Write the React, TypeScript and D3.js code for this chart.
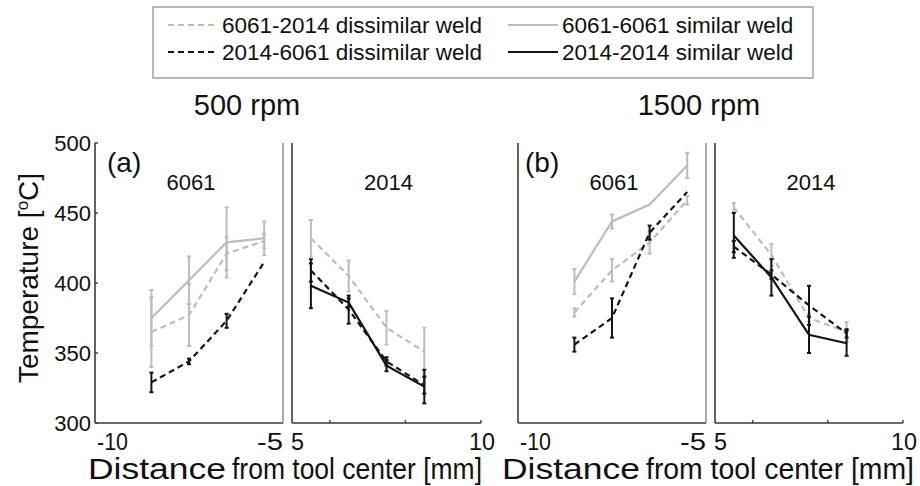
import React from "react";
import * as d3 from "d3";

// ---------- data ----------
const xLeft = [-8.5, -7.5, -6.5, -5.5];
const xRight = [5.5, 6.5, 7.5, 8.5];

const seriesNames = [
  "6061-2014 dissimilar weld",
  "2014-6061 dissimilar weld",
  "6061-6061 similar weld",
  "2014-2014 similar weld",
];

// 500 rpm, 6061 side
const a6061_similar = [375, 402, 429, 432];
const a6061_similarErr = [20, 17, 25, 12];
const a6061_d60612014 = [365, 377, 421, 430];
const a6061_d60612014Err = [25, 22, 12, 5];
const a6061_d20146061 = [329, 344, 373, 415];
const a6061_d20146061Err = [7, 2, 5, 0];
// 500 rpm, 2014 side
const a2014_d60612014 = [432, 405, 368, 351];
const a2014_d60612014Err = [13, 11, 12, 17];
const a2014_similar = [398, 386, 341, 326];
const a2014_similarErr = [16, 3, 4, 12];
const a2014_d20146061 = [409, 381, 344, 327];
const a2014_d20146061Err = [8, 10, 3, 6];
// 1500 rpm, 6061 side
const b6061_similar = [401, 444, 456, 484];
const b6061_similarErr = [9, 5, 0, 9];
const b6061_d60612014 = [379, 409, 429, 459];
const b6061_d60612014Err = [3, 8, 8, 3];
const b6061_d20146061 = [356, 375, 436, 465];
const b6061_d20146061Err = [5, 14, 5, 0];
// 1500 rpm, 2014 side
const b2014_d60612014 = [454, 420, 375, 365];
const b2014_d60612014Err = [3, 8, 3, 7];
const b2014_similar = [434, 404, 363, 357];
const b2014_similarErr = [16, 13, 13, 9];
const b2014_d20146061 = [426, 406, 384, 364];
const b2014_d20146061Err = [4, 3, 14, 3];

const yTicks = [300, 350, 400, 450, 500];
const xTickLabelsLeft = ["-10", "-5"];
const xTickLabelsRight = ["5", "10"];

// ---------- styles ----------
const GRAY = "#bdbdbd";
const BLACK = "#151515";
const AXIS = "#3a3a3a";
const FONT = "'Liberation Sans', Arial, sans-serif";

type S = { y: number[]; e: number[]; color: string; dashed: boolean };

const yScale = d3.scaleLinear().domain([300, 500]).range([423, 143]);

function Series({ xs, s, x }: { xs: number[]; s: S; x: d3.ScaleLinear<number, number> }) {
  const line = d3
    .line<number>()
    .x((_, i) => x(xs[i]))
    .y((v) => yScale(v));
  return (
    <g>
      {s.y.map((v, i) =>
        s.e[i] > 0 ? (
          <g key={i} stroke={s.color} strokeWidth={2}>
            <line x1={x(xs[i])} x2={x(xs[i])} y1={yScale(v - s.e[i])} y2={yScale(v + s.e[i])} />
            <line x1={x(xs[i]) - 2} x2={x(xs[i]) + 2} y1={yScale(v - s.e[i])} y2={yScale(v - s.e[i])} />
            <line x1={x(xs[i]) - 2} x2={x(xs[i]) + 2} y1={yScale(v + s.e[i])} y2={yScale(v + s.e[i])} />
          </g>
        ) : null
      )}
      <path
        d={line(s.y) || ""}
        fill="none"
        stroke={s.color}
        strokeWidth={2.2}
        strokeDasharray={s.dashed ? "6,4" : undefined}
      />
    </g>
  );
}

function TickText({ x, anchor, text, w }: { x: number; anchor: string; text: string; w: number }) {
  return (
    <text
      x={x}
      y={450}
      textAnchor={anchor}
      fontFamily={FONT}
      fontSize={24}
      fill="#111"
      textLength={w}
      lengthAdjust="spacingAndGlyphs"
    >
      {text}
    </text>
  );
}

function Panel({
  x,
  xs,
  series,
  label,
  left,
}: {
  x: d3.ScaleLinear<number, number>;
  xs: number[];
  series: S[];
  label: string;
  left: boolean;
}) {
  const [r0, r1] = x.range();
  const y0 = yScale(300);
  const yTop = yScale(500);
  return (
    <g>
      <line x1={r0} x2={r0} y1={yTop} y2={y0} stroke={AXIS} strokeWidth={1.6} />
      <line x1={r0} x2={r1} y1={y0} y2={y0} stroke={AXIS} strokeWidth={1.6} />
      {left && <line x1={r1} x2={r1} y1={yTop} y2={y0} stroke="#777" strokeWidth={1.2} />}
      {!left &&
        [6, 8, 10].map((t) => (
          <line key={t} x1={x(t)} x2={x(t)} y1={y0} y2={y0 - 3} stroke={AXIS} strokeWidth={1.4} />
        ))}
      <text x={(r0 + r1) / 2 + 2} y={190} textAnchor="middle" fontFamily={FONT} fontSize={22} fill="#111">
        {label}
      </text>
      {series.map((s, i) => (
        <Series key={i} xs={xs} s={s} x={x} />
      ))}
      {left ? (
        <>
          <TickText x={x(-10) + 2} anchor="start" text={xTickLabelsLeft[0]} w={31} />
          <TickText x={x(-5)} anchor="end" text={xTickLabelsLeft[1]} w={26} />
        </>
      ) : (
        <>
          <TickText x={x(5) - 1} anchor="start" text={xTickLabelsRight[0]} w={13} />
          <TickText x={x(10) + 1} anchor="middle" text={xTickLabelsRight[1]} w={26} />
        </>
      )}
    </g>
  );
}

export default function App() {
  const xaL = d3.scaleLinear().domain([-10, -5]).range([95, 283]);
  const xaR = d3.scaleLinear().domain([5, 10]).range([292, 481]);
  const xbL = d3.scaleLinear().domain([-10, -5]).range([518, 706]);
  const xbR = d3.scaleLinear().domain([5, 10]).range([715, 903]);

  const g = (y: number[], e: number[], color: string, dashed: boolean): S => ({ y, e, color, dashed });

  const legendItems = [
    { name: seriesNames[0], color: GRAY, dashed: true, lx: 168, ly: 25, tx: 222, ty: 33 },
    { name: seriesNames[1], color: BLACK, dashed: true, lx: 168, ly: 52, tx: 222, ty: 60 },
    { name: seriesNames[2], color: GRAY, dashed: false, lx: 508, ly: 25, tx: 562, ty: 33 },
    { name: seriesNames[3], color: BLACK, dashed: false, lx: 508, ly: 52, tx: 562, ty: 60 },
  ];

  return (
    <svg
      width={920}
      height={486}
      style={{ display: "block", position: "absolute", left: 0, top: 0 }}
    >
      <rect x={0} y={0} width={920} height={486} fill="#fff" />
      {/* legend */}
      <rect x={153} y={7} width={660} height={71} fill="#fff" stroke="#9a9a9a" strokeWidth={1.4} />
      {legendItems.map((l, i) => (
        <g key={i}>
          <line
            x1={l.lx}
            x2={l.lx + 50}
            y1={l.ly}
            y2={l.ly}
            stroke={l.color}
            strokeWidth={2}
            strokeDasharray={l.dashed ? "6,4" : undefined}
          />
          <text x={l.tx} y={l.ty} fontFamily={FONT} fontSize={22.5} fill="#111">
            {l.name}
          </text>
        </g>
      ))}

      {/* rpm titles */}
      <text x={247} y={115} textAnchor="middle" fontFamily={FONT} fontSize={29} fill="#111">
        500 rpm
      </text>
      <text x={699} y={115} textAnchor="middle" fontFamily={FONT} fontSize={29} fill="#111">
        1500 rpm
      </text>

      {/* y axis ticks and labels */}
      {yTicks.map((t) => (
        <g key={t}>
          <line x1={95} x2={98} y1={yScale(t)} y2={yScale(t)} stroke={AXIS} strokeWidth={1.4} />
          <text x={91} y={yScale(t) + 8} textAnchor="end" fontFamily={FONT} fontSize={22} fill="#111">
            {t}
          </text>
        </g>
      ))}
      <text
        transform={`translate(38,278) rotate(-90)`}
        textAnchor="middle"
        fontFamily={FONT}
        fontSize={28}
        fill="#111"
      >
        Temperature [<tspan dy={-10} fontSize={17}>o</tspan>
        <tspan dy={10}>C]</tspan>
      </text>

      {/* panel letters */}
      <text x={107} y={172} fontFamily={FONT} fontSize={28} fill="#111">
        (a)
      </text>
      <text x={525} y={172} fontFamily={FONT} fontSize={28} fill="#111">
        (b)
      </text>

      <Panel
        x={xaL}
        xs={xLeft}
        left
        label="6061"
        series={[
          g(a6061_d60612014, a6061_d60612014Err, GRAY, true),
          g(a6061_similar, a6061_similarErr, GRAY, false),
          g(a6061_d20146061, a6061_d20146061Err, BLACK, true),
        ]}
      />
      <Panel
        x={xaR}
        xs={xRight}
        left={false}
        label="2014"
        series={[
          g(a2014_d60612014, a2014_d60612014Err, GRAY, true),
          g(a2014_d20146061, a2014_d20146061Err, BLACK, true),
          g(a2014_similar, a2014_similarErr, BLACK, false),
        ]}
      />
      <Panel
        x={xbL}
        xs={xLeft}
        left
        label="6061"
        series={[
          g(b6061_d60612014, b6061_d60612014Err, GRAY, true),
          g(b6061_similar, b6061_similarErr, GRAY, false),
          g(b6061_d20146061, b6061_d20146061Err, BLACK, true),
        ]}
      />
      <Panel
        x={xbR}
        xs={xRight}
        left={false}
        label="2014"
        series={[
          g(b2014_d60612014, b2014_d60612014Err, GRAY, true),
          g(b2014_d20146061, b2014_d20146061Err, BLACK, true),
          g(b2014_similar, b2014_similarErr, BLACK, false),
        ]}
      />

      {/* x axis titles */}
      {[
        [88, 232, 482],
        [502, 646, 914],
      ].map(([x0, x1, x2], i) => (
        <g key={i} fill="#111" fontFamily={FONT} fontSize={30}>
          <text x={x0} y={479} textLength={x1 - x0 - 6} lengthAdjust="spacingAndGlyphs">
            Distance
          </text>
          <text x={x1} y={479} textLength={x2 - x1} lengthAdjust="spacingAndGlyphs">
            from tool center [mm]
          </text>
        </g>
      ))}
    </svg>
  );
}
